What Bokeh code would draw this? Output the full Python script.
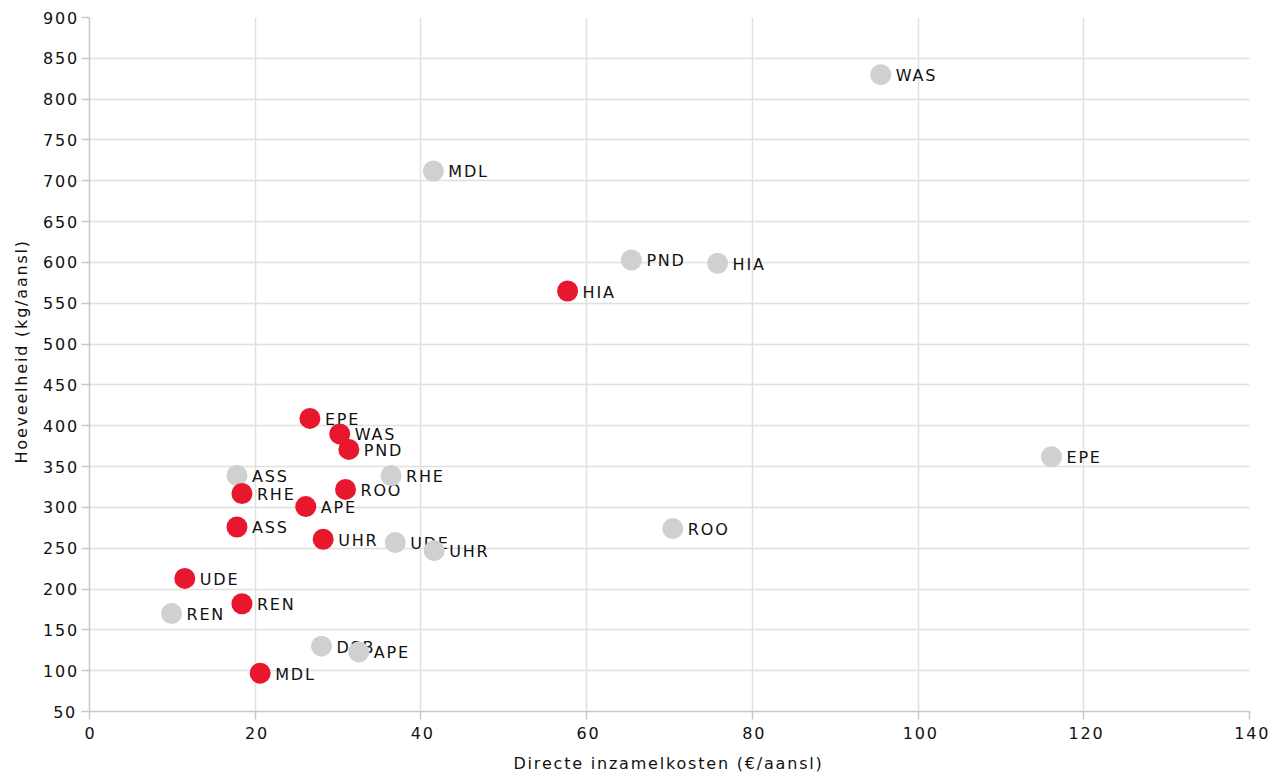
import math
from bokeh.plotting import figure
from bokeh.models import ColumnDataSource, Range1d, FixedTicker, Label
from bokeh.core.properties import value
from bokeh.embed import file_html
from bokeh.resources import INLINE

# Grey series (reference year)
codes_grey = ["WAS", "MDL", "PND", "HIA", "EPE", "ROO", "RHE", "ASS", "UDE", "UHR", "REN", "DSB", "APE"]
cost_grey = [95.5, 41.5, 65.4, 75.8, 116.1, 70.4, 36.4, 17.8, 36.9, 41.6, 9.9, 28.0, 32.5]
amount_grey = [830, 712, 603, 599, 362, 274, 339, 339, 257, 247, 170, 130, 123]

# Red series
codes_red = ["HIA", "EPE", "WAS", "PND", "ROO", "RHE", "APE", "ASS", "UHR", "UDE", "REN", "MDL"]
cost_red = [57.7, 26.6, 30.2, 31.3, 30.9, 18.4, 26.1, 17.8, 28.2, 11.5, 18.4, 20.6]
amount_red = [565, 409, 390, 371, 322, 317, 301, 276, 261, 213, 182, 97]

x_ticks = [0, 20, 40, 60, 80, 100, 120, 140]
y_ticks = list(range(50, 901, 50))

x_title = "Directe inzamelkosten (€/aansl)"
y_title = "Hoeveelheid (kg/aansl)"

FONT = "DejaVu Sans"

p = figure(width=1280, height=773, output_backend="svg", toolbar_location=None,
           x_range=Range1d(0, 140), y_range=Range1d(50, 900),
           min_border_left=89, min_border_right=31, min_border_top=17, min_border_bottom=62)
p.stylesheets = [":host { letter-spacing: 1.8px; }"]
p.outline_line_color = None
p.background_fill_color = "white"

src_g = ColumnDataSource(dict(x=cost_grey, y=amount_grey, t=codes_grey))
src_r = ColumnDataSource(dict(x=cost_red, y=amount_red, t=codes_red))

for src in (src_g, src_r):
    p.text(x="x", y="y", text="t", source=src, x_offset=15, y_offset=1,
           text_font=value(FONT), text_font_size="16px", text_color="#111111",
           text_baseline="middle", text_align="left")
p.scatter(x="x", y="y", source=src_g, size=21, fill_color="#d0d0d0", line_color=None)
p.scatter(x="x", y="y", source=src_r, size=21, fill_color="#e8172d", line_color=None)

p.xaxis.ticker = FixedTicker(ticks=x_ticks)
p.yaxis.ticker = FixedTicker(ticks=y_ticks)

for ax in (p.xaxis[0], p.yaxis[0]):
    ax.axis_line_color = "#c8c8c8"
    ax.axis_line_width = 1.5
    ax.major_tick_line_color = "#c8c8c8"
    ax.major_tick_line_width = 1.5
    ax.major_tick_out = 8
    ax.major_tick_in = 0
    ax.minor_tick_line_color = None
    ax.major_label_text_font = FONT
    ax.major_label_text_font_size = "16px"
    ax.major_label_text_color = "#111111"
p.xaxis.major_label_standoff = 7
p.yaxis.major_label_standoff = 8

# axis titles (left-aligned labels in the side panels, so the letter spacing does not shift them)
p.add_layout(Label(x=424, y=-3, x_units="screen", y_units="screen", text=x_title,
                   text_align="left", text_baseline="alphabetic",
                   text_font=FONT, text_font_size="16px", text_color="#111111"), "below")
p.add_layout(Label(x=1, y=248, x_units="screen", y_units="screen", text=y_title,
                   angle=math.pi / 2, text_align="left", text_baseline="alphabetic",
                   text_font=FONT, text_font_size="16px", text_color="#111111"), "left")

p.grid.grid_line_color = "#e0e0e0"
p.grid.grid_line_width = 1.5

open("out.html", "w").write(file_html(p, INLINE))
